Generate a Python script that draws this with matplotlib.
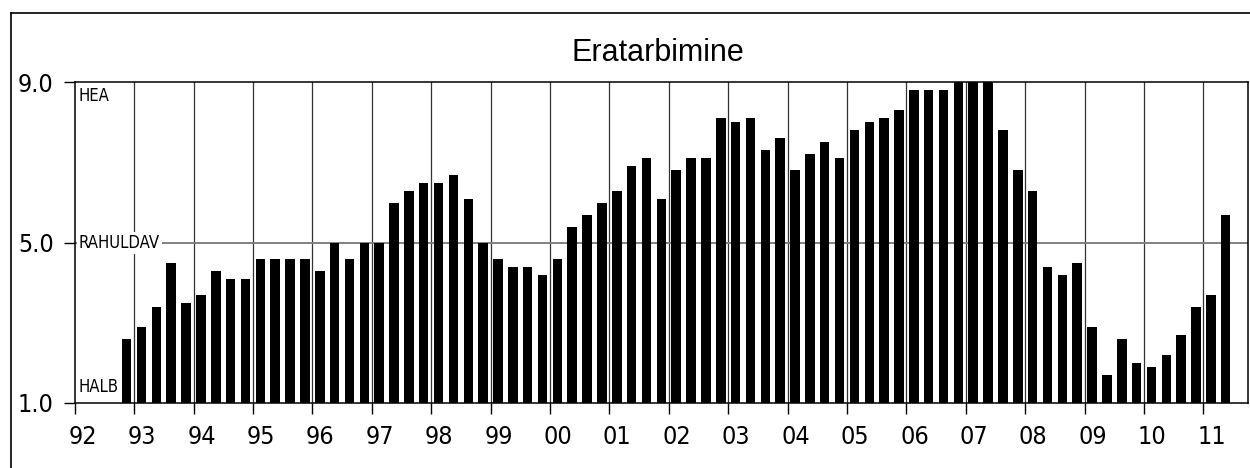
import matplotlib
matplotlib.use('Agg')
import matplotlib.pyplot as plt
import matplotlib.transforms as mtransforms
from matplotlib.lines import Line2D
import numpy as np

# quarterly values, 1992 Q4 .. 2011 Q2
start_year = 1992
start_quarter = 4
values = [2.6,
          2.9, 3.4, 4.5, 3.5,
          3.7, 4.3, 4.1, 4.1,
          4.6, 4.6, 4.6, 4.6,
          4.3, 5.0, 4.6, 5.0,
          5.0, 6.0, 6.3, 6.5,
          6.5, 6.7, 6.1, 5.0,
          4.6, 4.4, 4.4, 4.2,
          4.6, 5.4, 5.7, 6.0,
          6.3, 6.9, 7.1, 6.1,
          6.8, 7.1, 7.1, 8.1,
          8.0, 8.1, 7.3, 7.6,
          6.8, 7.2, 7.5, 7.1,
          7.8, 8.0, 8.1, 8.3,
          8.8, 8.8, 8.8, 9.0,
          9.0, 9.0, 7.8, 6.8,
          6.3, 4.4, 4.2, 4.5,
          2.9, 1.7, 2.6, 2.0,
          1.9, 2.2, 2.7, 3.4,
          3.7, 5.7]
years = list(range(1992, 2012))
year_labels = ['92', '93', '94', '95', '96', '97', '98', '99', '00', '01',
               '02', '03', '04', '05', '06', '07', '08', '09', '10', '11']
y_ticks = [1.0, 5.0, 9.0]
level_labels = ['HALB', 'RAHULDAV', 'HEA']
title = 'Eratarbimine'

# bar centres in the middle of each quarter
q = np.arange(len(values)) + (start_quarter - 1)
x = start_year + (q + 0.5) / 4.0

fig = plt.figure(figsize=(12.5, 4.68), dpi=100)
ax = fig.add_axes([74.7 / 1250, 65 / 468, (1248 - 74.7) / 1250, (403 - 82.3) / 468])

for yr in years[1:]:
    ax.axvline(yr, color='#333333', lw=0.9, zorder=1)
ax.axhline(5.0, color='#808080', lw=1.4, zorder=1)

ax.bar(x, values, width=0.16, color='black', zorder=3)

ax.set_xlim(1992, 2011.75)
ax.set_ylim(1.0, 9.0)

ax.set_xticks(years)
ax.set_xticklabels(year_labels)
ax.set_yticks(y_ticks)
ax.set_yticklabels(['%.1f' % v for v in y_ticks])
ax.tick_params(axis='both', direction='out', length=8, width=1, color='black',
               labelsize=18)
ax.tick_params(axis='x', pad=8)
ax.tick_params(axis='y', pad=7)
for lbl in ax.get_xticklabels() + ax.get_yticklabels():
    lbl.set_family('DejaVu Sans')
    lbl.set_stretch('condensed')
offset = mtransforms.ScaledTranslation(8 / 100, 0, fig.dpi_scale_trans)
for lbl in ax.get_xticklabels():
    lbl.set_transform(lbl.get_transform() + offset)

for sp in ax.spines.values():
    sp.set_color('black')
    sp.set_linewidth(1.1)

# level labels inside the plot
lab = dict(fontsize=12, family='DejaVu Sans', stretch='condensed', zorder=5)
ax.text(1992.07, 9.0 - 0.12, level_labels[2], ha='left', va='top', **lab)
ax.text(1992.07, 5.0, level_labels[1], ha='left', va='center',
        bbox=dict(facecolor='white', edgecolor='none', pad=1.5), **lab)
ax.text(1992.07, 1.0 + 0.18, level_labels[0], ha='left', va='bottom', **lab)

fig.text(658 / 1250, 1 - 53 / 468, title, ha='center', va='center',
         fontsize=22, family=['Liberation Sans', 'DejaVu Sans'])

# outer frame
fig.add_artist(Line2D([10.5 / 1250, 10.5 / 1250], [0, 1 - 13 / 468],
                      color='black', lw=1.2, transform=fig.transFigure))
fig.add_artist(Line2D([10.5 / 1250, 1], [1 - 13 / 468, 1 - 13 / 468],
                      color='black', lw=1.2, transform=fig.transFigure))

fig.savefig('out.png', dpi=100, facecolor='white')
